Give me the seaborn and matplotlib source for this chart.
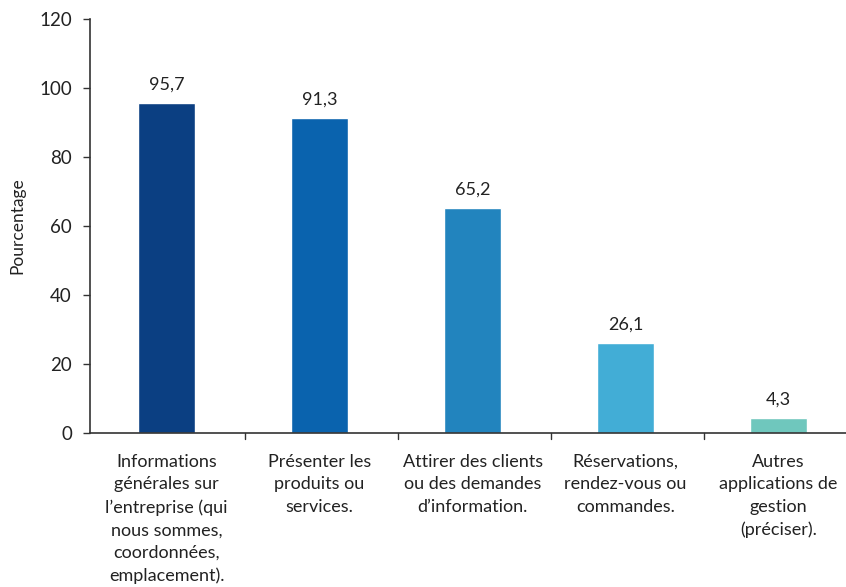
import matplotlib
matplotlib.use("Agg")
import matplotlib.pyplot as plt
import seaborn as sns
import pandas as pd

categories = [
    "Informations\ngénérales sur\nl\u2019entreprise (qui\nnous sommes,\ncoordonnées,\nemplacement).",
    "Présenter les\nproduits ou\nservices.",
    "Attirer des clients\nou des demandes\nd\u2019information.",
    "Réservations,\nrendez-vous ou\ncommandes.",
    "Autres\napplications de\ngestion\n(préciser).",
]
values = [95.7, 91.3, 65.2, 26.1, 4.3]
value_labels = ["95,7", "91,3", "65,2", "26,1", "4,3"]
bar_colors = ["#0b3f82", "#0a63ae", "#2284be", "#42add6", "#6fc7bd"]
yticks = [0, 20, 40, 60, 80, 100, 120]

sns.set_theme(style="white")
plt.rcParams["font.family"] = ["Lato", "DejaVu Sans"]

df = pd.DataFrame({"cat": categories, "val": values})

fig = plt.figure(figsize=(8.46, 5.87), dpi=100)
ax = fig.add_axes([90 / 846, 1 - 433 / 587, 1 - 90 / 846, 414 / 587])

sns.barplot(data=df, x="cat", y="val", hue="cat", palette=bar_colors,
            legend=False, width=0.37, saturation=1, ax=ax)

for i, (v, lab) in enumerate(zip(values, value_labels)):
    ax.text(i, v + 3.0, lab, ha="center", va="bottom", fontsize=13, color="#222222")

ax.set_ylim(0, 120)
ax.set_xlim(-0.5, 4.44)
ax.set_yticks(yticks)
ax.set_yticklabels([str(t) for t in yticks], fontsize=13.5, color="#222222")
ax.set_xticks(range(len(categories)))
ax.set_xticklabels(categories, fontsize=13, color="#222222", linespacing=1.5)
ax.tick_params(axis="x", length=0, pad=15)
ax.tick_params(axis="y", length=5, width=1, direction="out", color="#333333", pad=8, left=True)

# category boundary ticks on the x axis
for b in [0.5, 1.5, 2.5, 3.5]:
    ax.plot([b + 0.01, b + 0.01], [0, -1.6], color="#333333", lw=1, clip_on=False)

for s in ["top", "right"]:
    ax.spines[s].set_visible(False)
for s in ["left", "bottom"]:
    ax.spines[s].set_color("#333333")
    ax.spines[s].set_linewidth(1.2)

ax.set_xlabel("")
ax.set_ylabel("Pourcentage", fontsize=12.5, color="#222222", labelpad=10)

fig.savefig("out.png", dpi=100, facecolor="white")
